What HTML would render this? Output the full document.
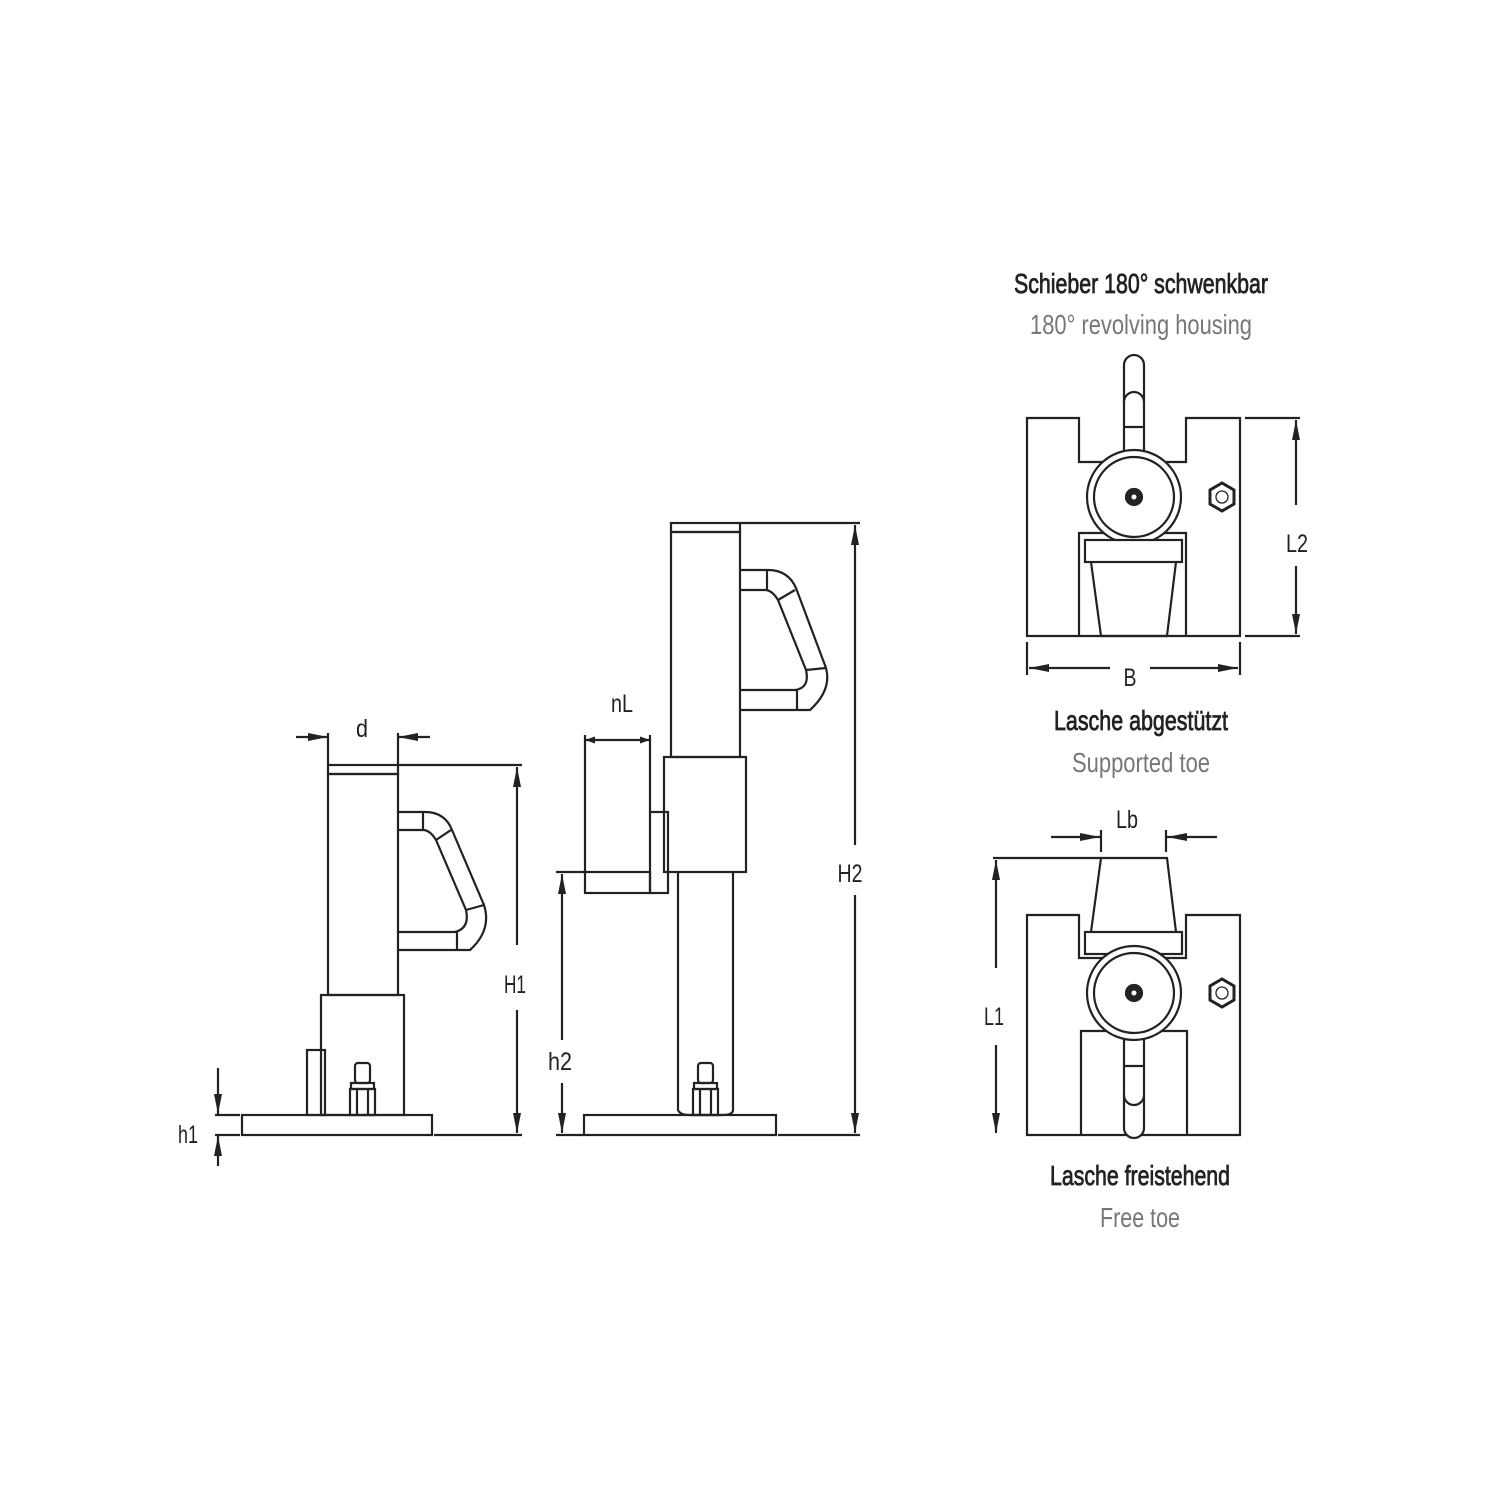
<!DOCTYPE html>
<html><head><meta charset="utf-8"><style>html,body{margin:0;background:#fff}svg{display:block}</style></head>
<body>
<svg width="1500" height="1500" viewBox="0 0 1500 1500" xmlns="http://www.w3.org/2000/svg">
<defs>
<marker id="a" viewBox="0 0 10 10" refX="10" refY="5" markerWidth="10" markerHeight="10" orient="auto-start-reverse" markerUnits="userSpaceOnUse"><path d="M0,1.5 L10,5 L0,8.5 Z" fill="#222"/></marker>
<marker id="b" viewBox="0 0 20 10" refX="20" refY="5" markerWidth="20" markerHeight="10" orient="auto-start-reverse" markerUnits="userSpaceOnUse"><path d="M0,1 L20,5 L0,9 Z" fill="#222"/></marker>
</defs>
<g fill="none" stroke="#222" stroke-width="2.2">
<!-- LEFT JACK -->
<rect x="328" y="765" width="70" height="9"/>
<rect x="328" y="774" width="70" height="221"/>
<path d="M398,812 H425 Q445,812 452,830 L484,905 Q492,930 470,950 H398"/>
<path d="M398,830 H423 Q430,830 436,840 L466,910 Q470,928 455,932 H398"/>
<line x1="423" y1="812" x2="423" y2="830"/><line x1="436" y1="840" x2="451" y2="830"/><line x1="466" y1="910" x2="484" y2="905"/><line x1="457" y1="932" x2="457" y2="950"/>
<rect x="321" y="995" width="83" height="120"/>
<rect x="307" y="1050" width="18" height="65"/>
<rect x="242" y="1115" width="190" height="20"/>
<rect x="355" y="1063" width="15" height="20" rx="3"/>
<rect x="351" y="1083" width="23" height="6"/>
<rect x="350" y="1089" width="25" height="26"/>
<line x1="357" y1="1089" x2="357" y2="1115"/><line x1="368" y1="1089" x2="368" y2="1115"/>
<line x1="328" y1="733" x2="328" y2="765"/><line x1="398" y1="733" x2="398" y2="765"/>
<line x1="296" y1="737" x2="328" y2="737" marker-end="url(#b)"/><line x1="430" y1="737" x2="398" y2="737" marker-end="url(#b)"/>
<line x1="398" y1="765" x2="522" y2="765"/><line x1="434" y1="1135" x2="522" y2="1135"/>
<line x1="517" y1="945" x2="517" y2="767" marker-end="url(#b)"/><line x1="517" y1="1010" x2="517" y2="1133" marker-end="url(#b)"/>
<line x1="215" y1="1115" x2="240" y2="1115"/><line x1="215" y1="1135" x2="240" y2="1135"/>
<line x1="218" y1="1068" x2="218" y2="1114" marker-end="url(#b)"/><line x1="218" y1="1166" x2="218" y2="1136" marker-end="url(#b)"/>

<!-- MIDDLE JACK -->
<rect x="671" y="523" width="69" height="9"/>
<rect x="671" y="532" width="69" height="225"/>
<path d="M740,570 H768 Q788,570 796,588 L826,668 Q832,690 810,710 H740"/>
<path d="M740,590 H765 Q772,590 778,600 L806,670 Q810,688 795,690 H740"/>
<line x1="767" y1="570" x2="767" y2="590"/><line x1="778" y1="600" x2="795" y2="590"/><line x1="806" y1="670" x2="826" y2="668"/><line x1="797" y1="690" x2="797" y2="710"/>
<rect x="664" y="757" width="82" height="115"/>
<rect x="650" y="812" width="18" height="81"/>
<rect x="585" y="872" width="65" height="21"/>
<path d="M678,872 V1110 Q680,1115 690,1115 H722 Q733,1115 733,1110 V872"/>
<rect x="584" y="1115" width="192" height="20"/>
<rect x="698" y="1063" width="15" height="20" rx="3"/>
<rect x="694" y="1083" width="23" height="6"/>
<rect x="693" y="1089" width="25" height="26"/>
<line x1="700" y1="1089" x2="700" y2="1115"/><line x1="711" y1="1089" x2="711" y2="1115"/>
<line x1="585" y1="735" x2="585" y2="872"/><line x1="650" y1="735" x2="650" y2="812"/>
<line x1="585" y1="740" x2="650" y2="740" marker-start="url(#a)" marker-end="url(#a)"/>
<line x1="556" y1="872" x2="585" y2="872"/><line x1="556" y1="1135" x2="584" y2="1135"/>
<line x1="562" y1="1040" x2="562" y2="874" marker-end="url(#b)"/><line x1="562" y1="1083" x2="562" y2="1133" marker-end="url(#b)"/>
<line x1="740" y1="523" x2="860" y2="523"/><line x1="778" y1="1135" x2="860" y2="1135"/>
<line x1="855" y1="845" x2="855" y2="525" marker-end="url(#b)"/><line x1="855" y1="895" x2="855" y2="1133" marker-end="url(#b)"/>

<!-- TOP RIGHT -->
<path d="M1027,418 H1079 V462 H1186 V418 H1240 V636 H1027 Z"/>
<path d="M1079,636 V533 H1186 V636"/>
<path d="M1124,458 V365 A10,10 0 0 1 1144,365 V458"/>
<path d="M1124,402 A10,10 0 0 1 1144,402"/><line x1="1124" y1="427" x2="1144" y2="427"/>
<circle cx="1134" cy="497" r="47" fill="#fff"/><circle cx="1134" cy="497" r="40"/>
<circle cx="1134" cy="497" r="8" fill="#222"/><circle cx="1134" cy="497" r="2.5" fill="#fff" stroke="none"/>
<rect x="1085" y="540" width="97" height="22" fill="#fff"/>
<path d="M1091,562 L1101,636 H1167 L1176,562"/>
<polygon points="1222,483 1234,490 1234,504 1222,511 1210,504 1210,490" stroke-width="3"/><circle cx="1222" cy="497" r="6" stroke-width="1.3"/>
<line x1="1245" y1="418" x2="1300" y2="418"/><line x1="1245" y1="636" x2="1300" y2="636"/>
<line x1="1296" y1="505" x2="1296" y2="420" marker-end="url(#b)"/><line x1="1296" y1="566" x2="1296" y2="634" marker-end="url(#b)"/>
<line x1="1027" y1="642" x2="1027" y2="675"/><line x1="1240" y1="642" x2="1240" y2="675"/>
<line x1="1110" y1="668" x2="1029" y2="668" marker-end="url(#b)"/><line x1="1150" y1="668" x2="1238" y2="668" marker-end="url(#b)"/>

<!-- BOTTOM RIGHT -->
<path d="M1027,915 H1079 V958 H1186 V915 H1240 V1135 H1027 Z"/>
<path d="M1081,1135 V1031 H1187 V1135"/>
<path d="M1091,932 L1101,858 H1167 L1176,932"/>
<rect x="1085" y="932" width="97" height="22" fill="#fff"/>
<path d="M1124,1030 V1128 A10,10 0 0 0 1144,1128 V1030" fill="#fff"/>
<line x1="1124" y1="1066" x2="1144" y2="1066"/><path d="M1124,1095 A10,10 0 0 0 1144,1095"/>
<circle cx="1134" cy="993" r="47" fill="#fff"/><circle cx="1134" cy="993" r="40"/>
<circle cx="1134" cy="993" r="8" fill="#222"/><circle cx="1134" cy="993" r="2.5" fill="#fff" stroke="none"/>
<polygon points="1222,979 1234,986 1234,1000 1222,1007 1210,1000 1210,986" stroke-width="3"/><circle cx="1222" cy="993" r="6" stroke-width="1.3"/>
<line x1="993" y1="858" x2="1101" y2="858"/>
<line x1="996" y1="968" x2="996" y2="860" marker-end="url(#b)"/><line x1="996" y1="1045" x2="996" y2="1133" marker-end="url(#b)"/>
<line x1="1101" y1="830" x2="1101" y2="852"/><line x1="1166" y1="830" x2="1166" y2="852"/>
<line x1="1051" y1="837" x2="1100" y2="837" marker-end="url(#b)"/><line x1="1217" y1="837" x2="1167" y2="837" marker-end="url(#b)"/>
</g>
<g font-family="Liberation Sans, sans-serif" fill="#222" text-anchor="middle" font-size="25">
<text x="362" y="737" textLength="12" lengthAdjust="spacingAndGlyphs">d</text>
<text x="515" y="993" textLength="22" lengthAdjust="spacingAndGlyphs">H1</text>
<text x="188" y="1143" textLength="20" lengthAdjust="spacingAndGlyphs">h1</text>
<text x="622" y="712" textLength="22" lengthAdjust="spacingAndGlyphs">nL</text>
<text x="560" y="1070" textLength="24" lengthAdjust="spacingAndGlyphs">h2</text>
<text x="850" y="882" textLength="25" lengthAdjust="spacingAndGlyphs">H2</text>
<text x="1297" y="552" textLength="22" lengthAdjust="spacingAndGlyphs">L2</text>
<text x="1130" y="686" textLength="13" lengthAdjust="spacingAndGlyphs">B</text>
<text x="1127" y="828" textLength="22" lengthAdjust="spacingAndGlyphs">Lb</text>
<text x="994" y="1025" textLength="20" lengthAdjust="spacingAndGlyphs">L1</text>
<text x="1141" y="293" font-size="28" stroke="#222" stroke-width="0.8" textLength="254" lengthAdjust="spacingAndGlyphs">Schieber 180° schwenkbar</text>
<text x="1141" y="334" font-size="28" fill="#777" textLength="222" lengthAdjust="spacingAndGlyphs">180° revolving housing</text>
<text x="1141" y="730" font-size="28" stroke="#222" stroke-width="0.8" textLength="174" lengthAdjust="spacingAndGlyphs">Lasche abgestützt</text>
<text x="1141" y="772" font-size="28" fill="#777" textLength="138" lengthAdjust="spacingAndGlyphs">Supported toe</text>
<text x="1140" y="1185" font-size="28" stroke="#222" stroke-width="0.8" textLength="180" lengthAdjust="spacingAndGlyphs">Lasche freistehend</text>
<text x="1140" y="1227" font-size="28" fill="#777" textLength="80" lengthAdjust="spacingAndGlyphs">Free toe</text>
</g>
</svg>
</body></html>
